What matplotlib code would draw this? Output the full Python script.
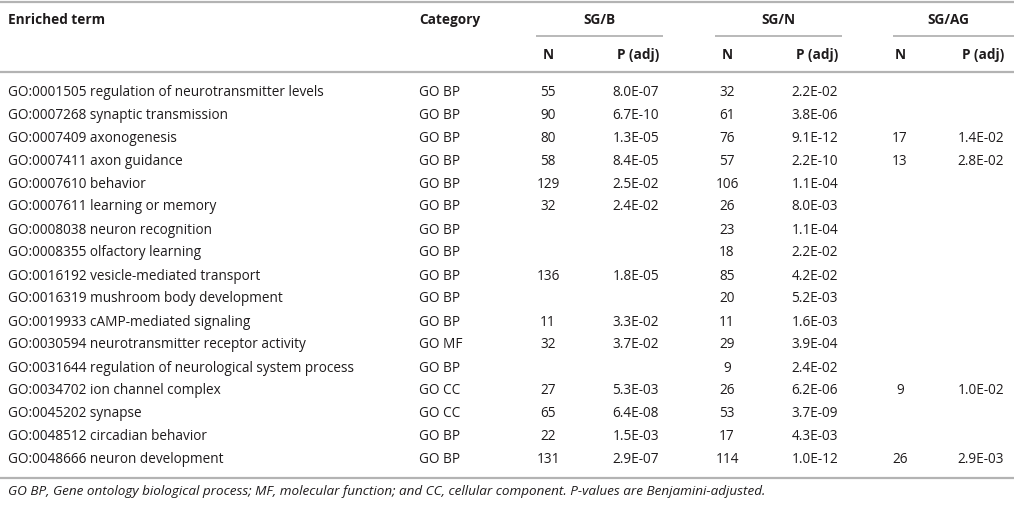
import matplotlib
matplotlib.use("Agg")
import matplotlib.pyplot as plt

terms = [
    "GO:0001505 regulation of neurotransmitter levels",
    "GO:0007268 synaptic transmission",
    "GO:0007409 axonogenesis",
    "GO:0007411 axon guidance",
    "GO:0007610 behavior",
    "GO:0007611 learning or memory",
    "GO:0008038 neuron recognition",
    "GO:0008355 olfactory learning",
    "GO:0016192 vesicle-mediated transport",
    "GO:0016319 mushroom body development",
    "GO:0019933 cAMP-mediated signaling",
    "GO:0030594 neurotransmitter receptor activity",
    "GO:0031644 regulation of neurological system process",
    "GO:0034702 ion channel complex",
    "GO:0045202 synapse",
    "GO:0048512 circadian behavior",
    "GO:0048666 neuron development",
]
categories = ["GO BP", "GO BP", "GO BP", "GO BP", "GO BP", "GO BP", "GO BP", "GO BP",
              "GO BP", "GO BP", "GO BP", "GO MF", "GO BP", "GO CC", "GO CC", "GO BP", "GO BP"]
sgb_n = ["55", "90", "80", "58", "129", "32", "", "", "136", "", "11", "32", "", "27", "65", "22", "131"]
sgb_p = ["8.0E-07", "6.7E-10", "1.3E-05", "8.4E-05", "2.5E-02", "2.4E-02", "", "", "1.8E-05", "",
         "3.3E-02", "3.7E-02", "", "5.3E-03", "6.4E-08", "1.5E-03", "2.9E-07"]
sgn_n = ["32", "61", "76", "57", "106", "26", "23", "18", "85", "20", "11", "29", "9", "26", "53", "17", "114"]
sgn_p = ["2.2E-02", "3.8E-06", "9.1E-12", "2.2E-10", "1.1E-04", "8.0E-03", "1.1E-04", "2.2E-02",
         "4.2E-02", "5.2E-03", "1.6E-03", "3.9E-04", "2.4E-02", "6.2E-06", "3.7E-09", "4.3E-03", "1.0E-12"]
sgag_n = ["", "", "17", "13", "", "", "", "", "", "", "", "", "", "9", "", "", "26"]
sgag_p = ["", "", "1.4E-02", "2.8E-02", "", "", "", "", "", "", "", "", "", "1.0E-02", "", "", "2.9E-03"]
groups = ["SG/B", "SG/N", "SG/AG"]
col_headers = ["Enriched term", "Category"]
sub_headers = ["N", "P (adj)"]
footnote = ("GO BP, Gene ontology biological process; MF, molecular function; and CC, "
            "cellular component. P-values are Benjamini-adjusted.")

W, H = 1014, 506
fig = plt.figure(figsize=(W / 100, H / 100), dpi=100)
ax = fig.add_axes([0, 0, 1, 1])
ax.set_xlim(0, W)
ax.set_ylim(H, 0)
ax.axis("off")

FONT = "Open Sans"
FS = 9.8
TXT = "#1e1b1c"
LINE = "#b3b3b3"

def line(x0, x1, y, lw=1.6):
    ax.plot([x0, x1], [y, y], color=LINE, lw=lw, solid_capstyle="butt")

# horizontal rules
line(0, W, 2.5)
line(0, W, 73)
line(0, W, 479)

group_spec = [  # (n_center, p_right, underline_x0, underline_x1, title_center)
    (548, 659, 536, 663, 599),
    (727, 838, 715, 842, 778),
    (900, 1004, 893, 1014, 948),
]
for (nc, pr, u0, u1, tc), g in zip(group_spec, groups):
    line(u0, u1, 37, lw=1.3)
    ax.text(tc, 20, g, ha="center", va="center", fontsize=FS,
            fontweight="bold", family=FONT, color=TXT)
    ax.text(nc, 55, sub_headers[0], ha="center", va="center", fontsize=FS,
            fontweight="bold", family=FONT, color=TXT)
    ax.text(pr, 55, sub_headers[1], ha="right", va="center", fontsize=FS,
            fontweight="bold", family=FONT, color=TXT)

ax.text(8, 20, col_headers[0], ha="left", va="center", fontsize=FS, fontweight="bold",
        family=FONT, color=TXT)
ax.text(419, 20, col_headers[1], ha="left", va="center", fontsize=FS, fontweight="bold",
        family=FONT, color=TXT)

cols = [(sgb_n, sgb_p), (sgn_n, sgn_p), (sgag_n, sgag_p)]
for i in range(len(terms)):
    y = 92 + i * 23
    ax.text(8, y, terms[i], ha="left", va="center", fontsize=FS, family=FONT, color=TXT)
    ax.text(419, y, categories[i], ha="left", va="center", fontsize=FS, family=FONT, color=TXT)
    for (nc, pr, _, _, _), (nv, pv) in zip(group_spec, cols):
        if nv[i]:
            ax.text(nc, y, nv[i], ha="center", va="center", fontsize=FS, family=FONT, color=TXT)
        if pv[i]:
            ax.text(pr, y, pv[i], ha="right", va="center", fontsize=FS, family=FONT, color=TXT)

ax.text(8, 492, footnote, ha="left", va="center", fontsize=9.7, style="italic",
        family=FONT, color=TXT)

fig.savefig("out.png", dpi=100)
